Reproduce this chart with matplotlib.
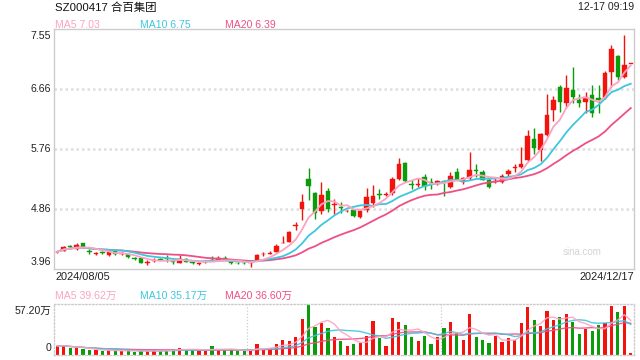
import numpy as np
import pandas as pd
import matplotlib
matplotlib.use("Agg")
import matplotlib.pyplot as plt
import matplotlib.transforms as mtransforms

plt.rcParams['font.family'] = ['Liberation Sans', 'Noto Sans CJK SC', 'DejaVu Sans']

title = "SZ000417 合百集团"
timestamp = "12-17 09:19"
date_labels = ["2024/08/05", "2024/12/17"]
price_ticks = ["7.55", "6.66", "5.76", "4.86", "3.96"]
vol_ticks = ["57.20万", "0"]
ma_labels = ["MA5 7.03", "MA10 6.75", "MA20 6.39"]
vol_ma_labels = ["MA5 39.62万", "MA10 35.17万", "MA20 36.60万"]

opens = [4.21, 4.236, 4.30, 4.26, 4.35, 4.235, 4.19, 4.22, 4.17, 4.23,
         4.19, 4.18, 4.12, 4.126, 4.055, 4.08, 4.11, 4.125, 4.075, 4.056,
         4.107, 4.065, 4.035, 4.062, 4.115, 4.10, 4.13, 4.097, 4.05, 4.05,
         4.058, 4.10, 4.18, 4.19, 4.22, 4.345, 4.37, 4.61, 4.855, 5.31,
         5.10, 4.83, 5.13, 4.925, 4.89, 4.825, 4.845, 4.735, 4.845, 4.945,
         5.075, 5.075, 5.095, 5.31, 5.55, 5.235, 5.225, 5.34, 5.255, 5.23,
         5.275, 5.19, 5.42, 5.27, 5.32, 5.435, 5.41, 5.29, 5.265, 5.26,
         5.38, 5.47, 5.49, 5.59, 5.91, 5.74, 5.97, 6.34, 6.68, 6.44,
         6.64, 6.49, 6.465, 6.565, 6.515, 6.515, 6.91, 7.15, 6.84, 7.03]
highs = [4.23, 4.30, 4.32, 4.355, 4.355, 4.26, 4.22, 4.23, 4.22, 4.24,
         4.22, 4.19, 4.14, 4.13, 4.10, 4.12, 4.13, 4.17, 4.11, 4.17,
         4.12, 4.08, 4.06, 4.09, 4.16, 4.16, 4.15, 4.10, 4.06, 4.06,
         4.097, 4.19, 4.21, 4.23, 4.33, 4.455, 4.53, 4.67, 5.09, 5.48,
         5.12, 5.27, 5.17, 5.005, 4.96, 4.85, 4.86, 4.85, 5.18, 5.22,
         5.155, 5.11, 5.34, 5.63, 5.56, 5.29, 5.32, 5.38, 5.32, 5.29,
         5.29, 5.42, 5.48, 5.34, 5.71, 5.53, 5.45, 5.33, 5.33, 5.38,
         5.46, 5.53, 5.78, 6.04, 6.07, 6.00, 6.58, 6.55, 6.715, 6.87,
         6.98, 6.58, 6.615, 6.71, 6.715, 6.93, 7.31, 7.17, 7.46, 7.03]
lows = [4.20, 4.225, 4.27, 4.25, 4.285, 4.19, 4.17, 4.19, 4.15, 4.17,
        4.17, 4.12, 4.09, 4.05, 4.02, 4.06, 4.09, 4.07, 4.03, 4.05,
        4.06, 4.04, 4.02, 4.05, 4.08, 4.09, 4.09, 4.04, 4.03, 4.03,
        3.997, 4.09, 4.16, 4.18, 4.21, 4.345, 4.36, 4.55, 4.695, 5.00,
        4.705, 4.78, 4.82, 4.78, 4.795, 4.81, 4.74, 4.72, 4.82, 4.89,
        5.005, 5.06, 5.07, 5.30, 5.27, 5.155, 5.19, 5.14, 5.16, 5.22,
        5.05, 5.18, 5.29, 5.24, 5.30, 5.34, 5.29, 5.18, 5.25, 5.25,
        5.35, 5.41, 5.48, 5.58, 5.69, 5.58, 5.95, 6.18, 6.315, 6.37,
        6.45, 6.38, 6.30, 6.24, 6.29, 6.50, 6.69, 6.79, 6.82, 7.03]
closes = [4.22, 4.287, 4.295, 4.32, 4.29, 4.22, 4.20, 4.20, 4.21, 4.18,
          4.20, 4.14, 4.11, 4.056, 4.065, 4.09, 4.10, 4.115, 4.065, 4.116,
          4.071, 4.058, 4.04, 4.07, 4.11, 4.126, 4.10, 4.047, 4.045, 4.045,
          4.065, 4.175, 4.19, 4.20, 4.31, 4.355, 4.52, 4.625, 4.96, 5.20,
          4.80, 5.07, 4.86, 4.935, 4.88, 4.835, 4.755, 4.835, 5.035, 5.055,
          5.065, 5.085, 5.31, 5.53, 5.28, 5.225, 5.235, 5.21, 5.245, 5.28,
          5.265, 5.35, 5.295, 5.32, 5.45, 5.43, 5.30, 5.19, 5.275, 5.36,
          5.43, 5.49, 5.54, 5.95, 5.77, 5.98, 6.27, 6.49, 6.465, 6.67,
          6.53, 6.45, 6.54, 6.29, 6.49, 6.90, 7.26, 6.84, 7.01, 7.03]
volumes = [10.1, 10.8, 7.8, 7.8, 6.3, 5.2, 5.2, 4.1, 5.2, 5.2,
           4.1, 5.2, 3.4, 4.5, 4.5, 5.2, 4.5, 5.2, 7.1, 8.2,
           5.6, 5.6, 4.1, 5.6, 9.7, 5.6, 5.6, 5.6, 4.1, 5.2,
           6.3, 12.0, 6.3, 7.5, 12.0, 16.4, 15.3, 19.8, 40.0, 57.2,
           31.0, 36.2, 29.9, 19.8, 15.3, 9.7, 12.0, 13.4, 20.9, 37.7,
           18.7, 9.7, 41.0, 36.6, 33.2, 19.8, 15.3, 20.9, 12.0, 19.8,
           29.9, 36.6, 25.4, 16.4, 45.5, 19.8, 16.4, 13.1, 20.9, 14.2,
           18.7, 16.4, 35.5, 53.4, 38.8, 32.1, 48.9, 38.8, 42.2, 45.5,
           36.6, 23.2, 28.8, 26.5, 33.2, 35.5, 54.5, 47.8, 54.5, 2.0]

RED = '#f2140c'
GREEN = '#0a9c0a'
C_MA5 = '#fba3c3'
C_MA10 = '#3ec6df'
C_MA20 = '#ee4f86'
GRID = '#dedede'
FRAME = '#cccccc'

n = len(closes)
x = np.arange(n)
o = np.array(opens); h = np.array(highs); l = np.array(lows); c = np.array(closes)
v = np.array(volumes)
up = c >= o
colors = np.where(up, RED, GREEN)

cs = pd.Series(c)
ma5 = cs.rolling(5, min_periods=1).mean()
ma10 = cs.rolling(10, min_periods=1).mean()
ma20 = cs.rolling(20, min_periods=1).mean()
vs = pd.Series(v)
vma5 = vs.rolling(5, min_periods=1).mean()
vma10 = vs.rolling(10, min_periods=1).mean()
vma20 = vs.rolling(20, min_periods=1).mean()

fig = plt.figure(figsize=(6.4, 3.6), dpi=100)
W, H = 640.0, 360.0
ax = fig.add_axes([54 / W, 1 - 269 / H, 580 / W, 240 / H])
axv = fig.add_axes([54 / W, 1 - 355 / H, 580 / W, 51 / H])

ymin, ymax = 3.962, 7.553
ax.set_xlim(-0.5, n - 0.5)
ax.set_ylim(ymin, ymax)
step = (ymax - ymin) / 4
for k in (1, 2, 3):
    ax.axhline(ymin + k * step, color=GRID, lw=1.8, ls=(0, (1, 1.2)), zorder=0)

# candles
bw = 0.68
body_bottom = np.minimum(o, c)
body_h = np.maximum(np.abs(c - o), 0.012)
ax.vlines(x, l, h, colors=colors, lw=1.0, zorder=2)
ax.bar(x, body_h, bottom=body_bottom, width=bw, color=colors, edgecolor=colors, lw=0.3, zorder=3)

ax.plot(x, ma20, color=C_MA20, lw=1.3, zorder=4)
ax.plot(x, ma10, color=C_MA10, lw=1.3, zorder=4)
ax.plot(x, ma5, color=C_MA5, lw=1.3, zorder=4)

for s in ax.spines.values():
    s.set_color(FRAME); s.set_linewidth(1.0)
ax.set_xticks([]); ax.set_yticks([])

tr = mtransforms.blended_transform_factory(ax.transAxes, ax.transData)
tick_vals = [ymax, ymin + 3 * step, ymin + 2 * step, ymin + step, ymin]
for i, (val, lab) in enumerate(zip(tick_vals, price_ticks)):
    va = 'top' if i == 0 else ('bottom' if i == 4 else 'center')
    off = -1.5 if i == 0 else (1.5 if i == 4 else 0)
    ax.annotate(lab, xy=(-0.005, val), xycoords=tr, xytext=(0, off), textcoords='offset points',
                ha='right', va=va, fontsize=7.6, color='#222222')

ax.text(0.91, 0.07, "sina.com", transform=ax.transAxes, ha='center', va='center',
        fontsize=7, color='#d4d4d4')

# volume
axv.set_xlim(-0.5, n - 0.5)
axv.set_ylim(0, 57.2)
axv.bar(x, v, width=0.5, color=colors, zorder=2)
axv.plot(x, vma20, color=C_MA20, lw=1.0, zorder=3, alpha=0.9)
axv.plot(x, vma10, color=C_MA10, lw=1.0, zorder=3, alpha=0.9)
axv.plot(x, vma5, color=C_MA5, lw=1.0, zorder=3, alpha=0.9)
for xv in (n / 3 - 0.5, 2 * n / 3 - 0.5):
    axv.axvline(xv, color=FRAME, lw=0.9, ls=(0, (1, 1.5)), zorder=0)
for s in axv.spines.values():
    s.set_color(FRAME); s.set_linewidth(1.0); s.set_linestyle((0, (1, 1.5)))
axv.set_xticks([]); axv.set_yticks([])
trv = mtransforms.blended_transform_factory(axv.transAxes, axv.transData)
axv.annotate(vol_ticks[0], xy=(-0.005, 57.2), xycoords=trv, xytext=(0, -1.5), textcoords='offset points',
             ha='right', va='top', fontsize=7.6, color='#222222')
axv.annotate(vol_ticks[1], xy=(-0.005, 0), xycoords=trv, xytext=(0, 1.5), textcoords='offset points',
             ha='right', va='bottom', fontsize=7.6, color='#222222')

# header texts
fig.text(55 / W, 1 - 7.5 / H, title, ha='left', va='center', fontsize=8.2, color='#111111')
fig.text(634 / W, 1 - 7.5 / H, timestamp, ha='right', va='center', fontsize=7.6, color='#222222')
for lab, col, xp in zip(ma_labels, [C_MA5, C_MA10, C_MA20], [55, 140, 225]):
    fig.text(xp / W, 1 - 24.5 / H, lab, ha='left', va='center', fontsize=7.6, color=col)
for lab, col, xp in zip(vol_ma_labels, [C_MA5, C_MA10, C_MA20], [55, 140, 225]):
    fig.text(xp / W, 1 - 295.5 / H, lab, ha='left', va='center', fontsize=7.6, color=col)
fig.text(55 / W, 1 - 276.5 / H, date_labels[0], ha='left', va='center', fontsize=7.9, color='#222222')
fig.text(634 / W, 1 - 276.5 / H, date_labels[1], ha='right', va='center', fontsize=7.9, color='#222222')

fig.savefig("out.png", dpi=100)
